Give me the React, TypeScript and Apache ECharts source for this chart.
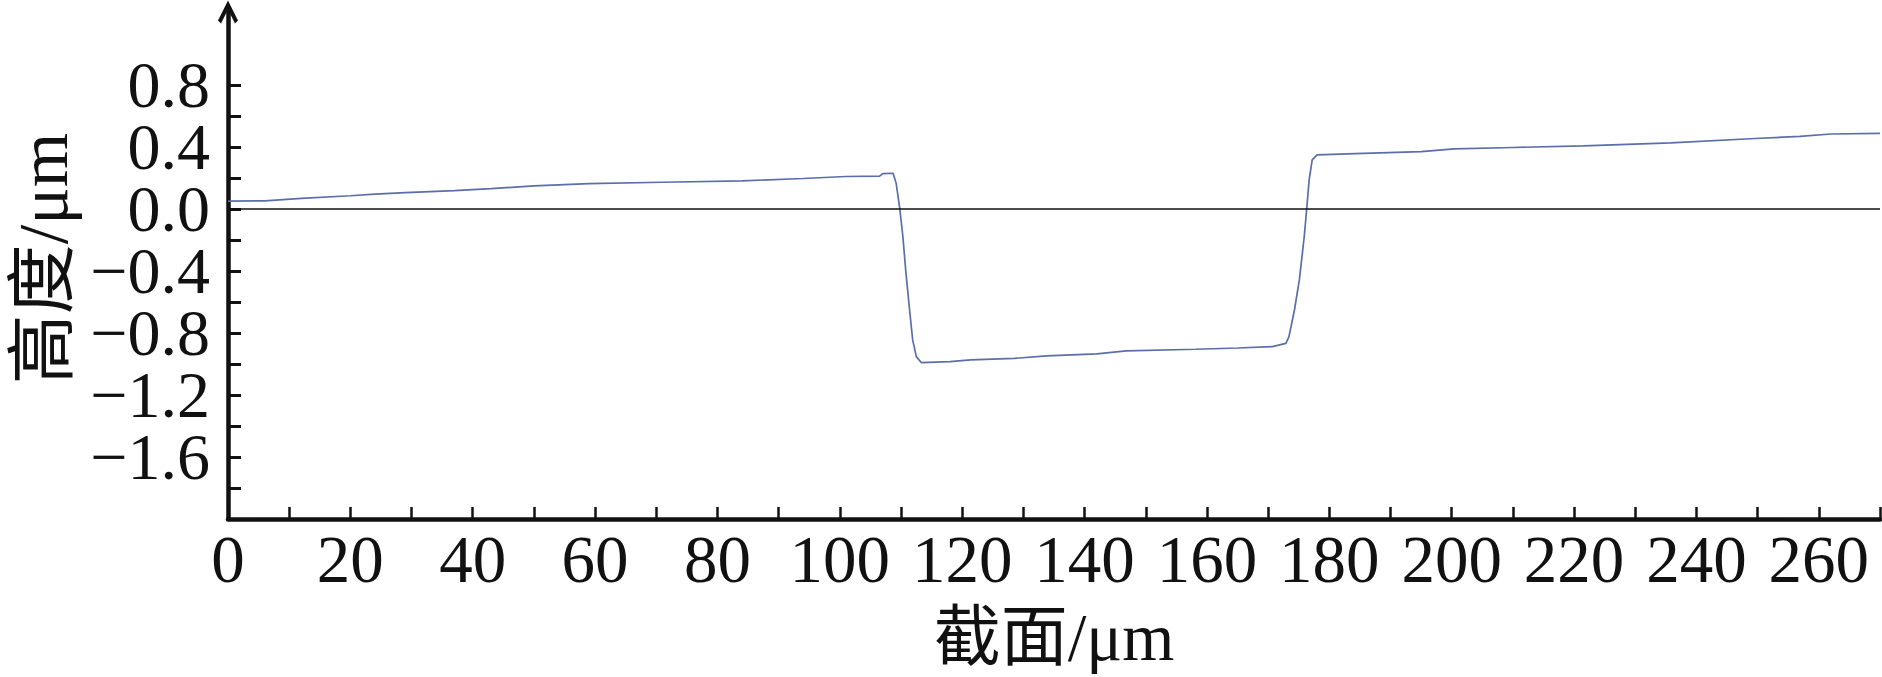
import React, { useEffect, useRef } from "react";
import * as echarts from "echarts";

// Cross-section position (µm)
const xValues: number[] = [
  0, 6, 12, 20, 24, 29, 37, 43, 50, 59, 71, 84, 94, 101, 106.5, 107, 108.7,
  109.2, 109.8, 110.3, 110.8, 111.4, 111.9, 112.5, 113.3, 118, 121.4, 128.5,
  133.8, 142, 146.8, 158.2, 165, 170.7, 172.9, 173.4, 174.3, 175.1, 175.9,
  176.3, 176.7, 177.2, 178, 182.9, 195, 200.4, 210, 221.5, 235.8, 249.6,
  256.9, 262, 270,
];
// Height (µm)
const heights: number[] = [
  0.05, 0.052, 0.068, 0.085, 0.095, 0.105, 0.118, 0.131, 0.148, 0.163, 0.172,
  0.181, 0.196, 0.209, 0.211, 0.228, 0.23, 0.166, 0.0, -0.178, -0.413, -0.652,
  -0.845, -0.953, -0.991, -0.985, -0.974, -0.964, -0.948, -0.935, -0.916,
  -0.905, -0.897, -0.888, -0.867, -0.824, -0.652, -0.458, -0.178, 0.0, 0.187,
  0.316, 0.348, 0.355, 0.37, 0.387, 0.396, 0.406, 0.426, 0.454, 0.468, 0.483,
  0.487,
];

const xTickValues: number[] = [
  0, 10, 20, 30, 40, 50, 60, 70, 80, 90, 100, 110, 120, 130, 140, 150, 160,
  170, 180, 190, 200, 210, 220, 230, 240, 250, 260, 270,
];
const xLabelValues: number[] = [
  0, 20, 40, 60, 80, 100, 120, 140, 160, 180, 200, 220, 240, 260,
];
const yTickValues: number[] = [
  -2.0, -1.8, -1.6, -1.4, -1.2, -1.0, -0.8, -0.6, -0.4, -0.2, 0, 0.2, 0.4,
  0.6, 0.8,
];
// y tick labels, split in two interleaved sets so none is dropped
const yLabelValuesA: number[] = [-1.6, -0.8, 0, 0.8];
const yLabelValuesB: number[] = [-1.2, -0.4, 0.4];

const xName = "截面/μm";
const yName = "高度/μm";

const FONT = "'Times New Roman', 'Liberation Serif', 'Noto Sans CJK SC', serif";
const Y_MIN = -2.0;
const Y_MAX = 1.27;

const yFmt = (v: number) => {
  const s = Math.abs(v).toFixed(1);
  return v < -1e-9 ? "\u2212" + s : s;
};

const yLabelStyle = (values: number[]) => ({
  show: true,
  margin: 18,
  showMinLabel: true,
  showMaxLabel: true,
  hideOverlap: false,
  customValues: values,
  fontFamily: FONT,
  fontSize: 66,
  color: "#111",
  formatter: yFmt,
});

export default function App() {
  const ref = useRef<HTMLDivElement>(null);

  useEffect(() => {
    document.body.style.margin = "0";
    if (!ref.current) return;
    const chart = echarts.init(ref.current, undefined, { renderer: "svg" });
    const data = xValues.map((x, i) => [x, heights[i]]);
    chart.setOption({
      animation: false,
      backgroundColor: "#ffffff",
      grid: { left: 220, right: 2, top: 12, bottom: 158, containLabel: false },
      xAxis: {
        type: "value",
        min: 0,
        max: 270,
        interval: 10,
        name: xName,
        nameLocation: "middle",
        nameGap: 84,
        nameTextStyle: { fontFamily: FONT, fontSize: 67, color: "#111" },
        axisLine: { show: true, onZero: false, lineStyle: { color: "#111", width: 4.5 } },
        axisTick: {
          show: true,
          inside: true,
          length: 12,
          customValues: xTickValues,
          lineStyle: { color: "#111", width: 2.5 },
        },
        axisLabel: {
          show: true,
          margin: 6,
          showMinLabel: true,
          customValues: xLabelValues,
          fontFamily: FONT,
          fontSize: 67,
          color: "#111",
          formatter: (v: number) => String(Math.round(v)),
        },
        splitLine: { show: false },
      },
      yAxis: [
        {
          type: "value",
          position: "left",
          min: Y_MIN,
          max: Y_MAX,
          name: yName,
          nameLocation: "middle",
          nameGap: 150,
          nameRotate: 90,
          nameTextStyle: { fontFamily: FONT, fontSize: 70, color: "#111", padding: [0, 0, 0, 14] },
          axisLine: {
            show: true,
            onZero: false,
            symbol: ["none", "path://M10,0 L20,20 L17,23 L10,9 L3,23 L0,20 Z"],
            symbolSize: [20, 24],
            lineStyle: { color: "#111", width: 4.5 },
          },
          axisTick: {
            show: true,
            inside: true,
            length: 13,
            customValues: yTickValues,
            lineStyle: { color: "#111", width: 3 },
          },
          axisLabel: yLabelStyle(yLabelValuesA),
          splitLine: { show: false },
        },
        {
          type: "value",
          position: "left",
          offset: 0,
          min: Y_MIN,
          max: Y_MAX,
          axisLine: { show: false, onZero: false },
          axisTick: { show: false },
          axisLabel: yLabelStyle(yLabelValuesB),
          splitLine: { show: false },
        },
      ],
      series: [
        {
          type: "line",
          yAxisIndex: 0,
          data,
          showSymbol: false,
          symbol: "none",
          lineStyle: { color: "#5a6eac", width: 1.7 },
          markLine: {
            silent: true,
            symbol: ["none", "none"],
            label: { show: false },
            lineStyle: { color: "#111", width: 1.5, type: "solid" },
            data: [{ yAxis: 0 }],
          },
        },
      ],
    });
    return () => chart.dispose();
  }, []);

  return (
    <div
      ref={ref}
      style={{ position: "absolute", left: 0, top: 0, width: 1882, height: 677 }}
    />
  );
}
